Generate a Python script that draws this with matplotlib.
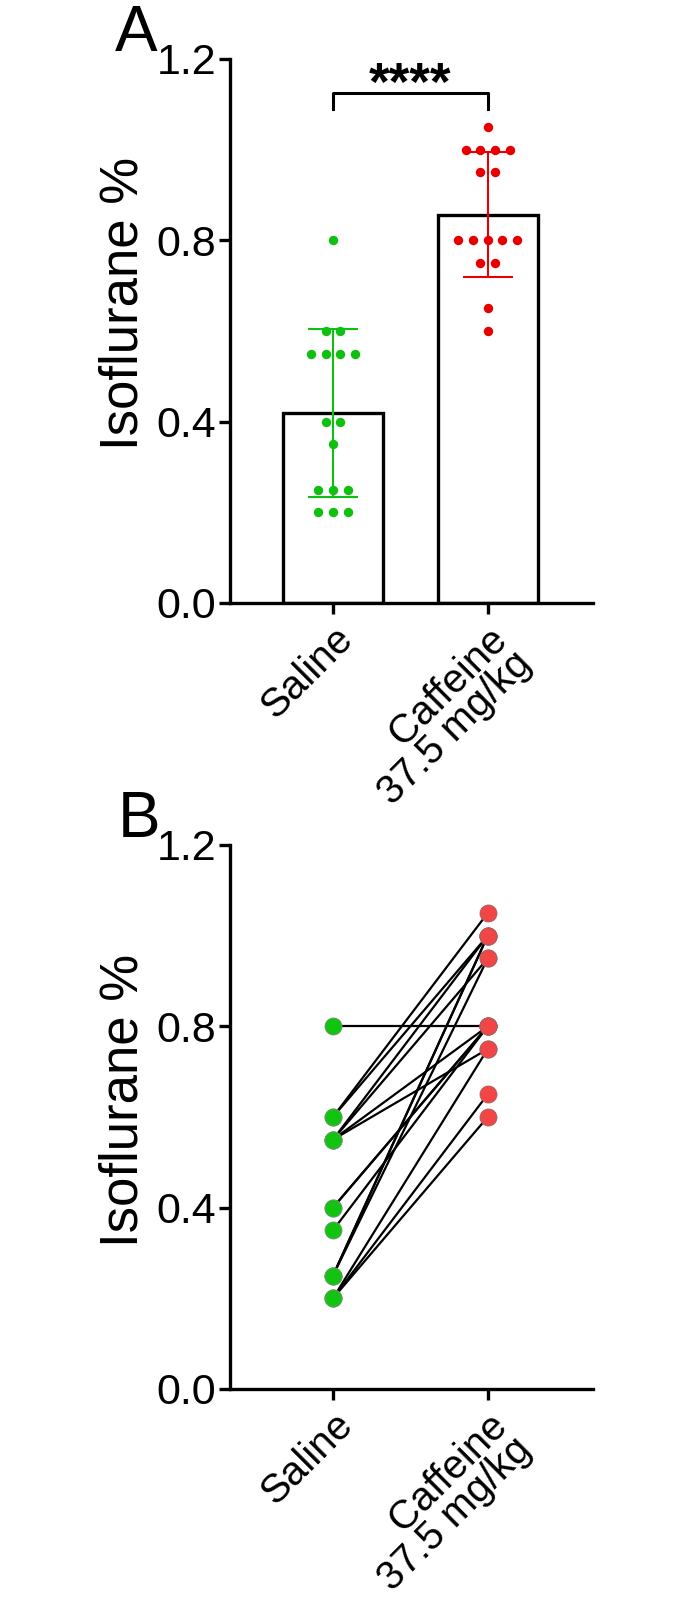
import matplotlib
matplotlib.use('Agg')
import matplotlib.pyplot as plt
import matplotlib.transforms as mtransforms
import numpy as np

plt.rcParams['font.family'] = ['Liberation Sans', 'DejaVu Sans']

# data
groups = ['Saline', 'Caffeine\n37.5 mg/kg']
saline = [0.80, 0.60, 0.60, 0.55, 0.55, 0.55, 0.55, 0.40, 0.40, 0.35,
          0.25, 0.25, 0.25, 0.20, 0.20, 0.20]
caffeine = [0.80, 1.05, 1.00, 1.00, 0.95, 0.75, 0.80, 0.80, 0.80, 0.80,
            1.00, 0.95, 1.00, 0.75, 0.65, 0.60]
yticks = [0.0, 0.4, 0.8, 1.2]
stars = '****'

green = '#10c010'
red = '#e80000'
green_b = '#12c312'
red_b = '#f24646'

W, H = 698, 1598
fig = plt.figure(figsize=(W / 100, H / 100), dpi=100)
axA = fig.add_axes([230 / W, 1 - 603 / H, 363 / W, 544 / H])
axB = fig.add_axes([230 / W, 1 - 1389 / H, 363 / W, 544 / H])


def spread(vals, step=0.095):
    # horizontal offsets for dots sharing the same value
    vals = np.asarray(vals)
    off = np.zeros(len(vals))
    for v in np.unique(vals):
        idx = np.where(vals == v)[0]
        n = len(idx)
        off[idx] = (np.arange(n) - (n - 1) / 2) * step
    return off


def style(ax, ly):
    for s in ['top', 'right']:
        ax.spines[s].set_visible(False)
    for s in ['left', 'bottom']:
        ax.spines[s].set_linewidth(2.4)
    ax.set_ylim(0, 1.2)
    ax.set_xlim(-0.665, 1.68)
    ax.set_yticks(yticks)
    ax.set_yticklabels([f'{t:.1f}' for t in yticks])
    ax.set_xticks([0, 1])
    labs = ax.set_xticklabels(groups, rotation=45, ha='right',
                              rotation_mode='anchor', linespacing=0.9)
    # nudge the two-line label up and left
    off = mtransforms.ScaledTranslation(-6 / 72, 17 / 72, fig.dpi_scale_trans)
    labs[1].set_transform(labs[1].get_transform() + off)
    ax.tick_params(width=2.4, length=8, labelsize=31)
    ax.tick_params(axis='y', pad=2)
    ax.tick_params(axis='x', pad=4, labelsize=29)
    ax.set_ylabel('Isoflurane %', fontsize=38)
    ax.yaxis.set_label_coords(-0.225, ly)
    ax.patch.set_alpha(0)


# panel A: bars with mean +/- SD and individual points
for i, (vals, col) in enumerate([(saline, green), (caffeine, red)]):
    m = np.mean(vals)
    sd = np.std(vals, ddof=1)
    axA.bar(i, m, width=0.645, facecolor='white', edgecolor='black',
            linewidth=2.4, zorder=1)
    axA.scatter(i + spread(vals), vals, s=46, color=col, zorder=3,
                linewidths=0)
    axA.errorbar(i, m, yerr=sd, color=col, capsize=18, elinewidth=1.5,
                 capthick=1.5, zorder=2)

axA.plot([0, 0, 1, 1], [1.09, 1.125, 1.125, 1.09], color='black', lw=2.2,
         clip_on=False)
axA.text(0.5, 1.085, stars, ha='center', va='bottom', fontsize=38,
         fontweight='bold')
style(axA, 0.55)

# panel B: paired values
for s, c in zip(saline, caffeine):
    axB.plot([0, 1], [s, c], color='black', lw=1.6, zorder=2)
axB.scatter(np.zeros(len(saline)), saline, s=150, color=green_b,
            edgecolors='#6a9a6a', linewidths=0.6, zorder=3)
axB.scatter(np.ones(len(caffeine)), caffeine, s=150, color=red_b,
            edgecolors='#a06060', linewidths=0.6, zorder=3)
style(axB, 0.53)

fig.text(115 / W, 1 - 4 / H, 'A', fontsize=46, va='top', ha='left')
fig.text(118 / W, 1 - 790 / H, 'B', fontsize=46, va='top', ha='left')

fig.savefig('out.png', dpi=100)
